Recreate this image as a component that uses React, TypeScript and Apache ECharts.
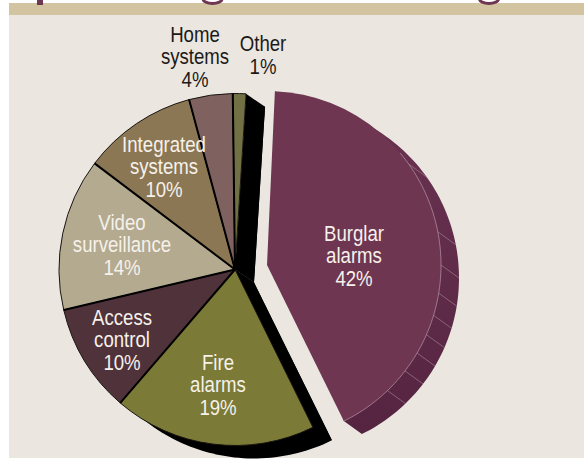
import React, { useEffect, useRef } from "react";
import * as echarts from "echarts";

const names = ["Burglar\nalarms", "Fire\nalarms", "Access\ncontrol", "Video\nsurveillance", "Integrated\nsystems", "Home\nsystems", "Other"];
// Percentages as printed on the chart.
const printedShares = [42, 19, 10, 14, 10, 4, 1];
// Wedge sizes as measured on the picture (the drawn wedges differ slightly from the printed figures).
const wedgeShares = [41.7, 18.6, 10, 14, 10.5, 4, 1.2];
const colors = ["#6e3651", "#7b7a37", "#50323b", "#b3aa90", "#8b7753", "#7f625f", "#717145"];
const labelColors = ["#f6f1ea", "#f6f1ea", "#f6f1ea", "#f6f1ea", "#f6f1ea", "#1c1a18", "#1c1a18"];
const labelCentres = [[354, 255], [218, 384], [122, 339], [122, 244], [164, 166], [195, 56], [263, 54]];
// Clockwise degrees from 12 o'clock where the burglar-alarm side panel has its seams.
const seamAngles = [54.6, 79, 90, 99.3, 106.8, 113.6, 120.4, 127.5, 136.2];

const CX = 235, CY = 269.5, R = 176, DX = 19, DY = 13, FIRST_ANGLE = 3.6;
const BX = 267, BY = 265, BR = 174, BDX = 18, BDY = 13, B_START = 2.6;
const LABEL_FONT = "Liberation Sans";

const rad = (a: number) => (a * Math.PI) / 180;
const polar = (cx: number, cy: number, r: number, a: number) => [cx + r * Math.sin(rad(a)), cy - r * Math.cos(rad(a))];

const total = wedgeShares.reduce((s, v) => s + v, 0);
const edges: number[] = [FIRST_ANGLE];
wedgeShares.forEach((s) => edges.push(edges[edges.length - 1] + (s / total) * 360));
const B_END = B_START + (printedShares[0] / 100) * 360;

const arcPts = (cx: number, cy: number, r: number, a0: number, a1: number) => {
  const out: number[][] = [];
  const steps = Math.max(2, Math.ceil(Math.abs(a1 - a0) / 1.5));
  for (let i = 0; i <= steps; i++) out.push(polar(cx, cy, r, a0 + ((a1 - a0) * i) / steps));
  return out;
};

const blackQuad = (a: number) => ({
  type: "polygon",
  shape: { points: [[CX, CY], polar(CX, CY, R, a), polar(CX + DX, CY + DY, R, a), [CX + DX, CY + DY]] },
  style: { fill: "#000" },
});
const blackWedge = (a0: number, a1: number) => ({
  type: "polygon",
  shape: { points: [[CX + DX, CY + DY], ...arcPts(CX + DX, CY + DY, R, a0, a1)] },
  style: { fill: "#000" },
});

function renderUnder() {
  const panel = [
    polar(BX, BY, BR, B_END),
    ...arcPts(BX + BDX, BY + BDY, BR, B_END, B_START),
    polar(BX, BY, BR, B_START),
  ];
  return {
    type: "group",
    children: [
      blackQuad(edges[1]),
      blackQuad(edges[2]),
      blackWedge(edges[1], edges[2]),
      blackQuad(edges[7]),
      blackWedge(edges[6], edges[7]),
      {
        type: "polygon",
        shape: { points: panel },
        style: {
          fill: new echarts.graphic.LinearGradient(0, 0, 0, 1, [
            { offset: 0, color: "#6b3451" },
            { offset: 1, color: "#552441" },
          ]),
        },
      },
      ...seamAngles.map((a) => {
        const p = polar(BX, BY, BR, a);
        const q = polar(BX + BDX, BY + BDY, BR, a);
        return {
          type: "line",
          shape: { x1: p[0], y1: p[1], x2: q[0], y2: q[1] },
          style: { stroke: "#a98a9a", lineWidth: 0.6 },
        };
      }),
    ],
  };
}

function renderOver() {
  return {
    type: "group",
    children: [
      ...edges.slice(2, 7).map((a) => {
        const p = polar(CX, CY, R, a);
        return {
          type: "line",
          shape: { x1: CX, y1: CY, x2: p[0], y2: p[1] },
          style: { stroke: "#000", lineWidth: 2 },
        };
      }),
      {
        type: "polyline",
        shape: { points: arcPts(BX, BY, BR, 50, B_END) },
        style: { stroke: "#b798a7", lineWidth: 0.7, fill: "none" },
      },
      ...names.map((name, i) => ({
        type: "text",
        x: labelCentres[i][0],
        y: labelCentres[i][1],
        scaleX: 0.81,
        style: {
          text: `${name}\n${printedShares[i]}%`,
          fontFamily: LABEL_FONT,
          fontSize: 23,
          lineHeight: 22.7,
          align: "center",
          verticalAlign: "middle",
          fill: labelColors[i],
        },
      })),
    ],
  };
}

export default function App() {
  const ref = useRef<HTMLDivElement>(null);
  useEffect(() => {
    const chart = echarts.init(ref.current!, null, { renderer: "svg" });
    const inkStyle = { stroke: "#6e3651", lineWidth: 3, fill: "none" };
    chart.setOption({
      animation: false,
      backgroundColor: "#ffffff",
      graphic: {
        elements: [
          { type: "rect", z: -10, silent: true, shape: { x: 9, y: 15, width: 575, height: 443 }, style: { fill: "#ebe7e0" } },
          { type: "rect", z: -10, silent: true, shape: { x: 9, y: 3, width: 575, height: 12 }, style: { fill: "#d2c4a0" } },
          { type: "rect", z: -9, silent: true, shape: { x: 37, y: 0, width: 6, height: 5 }, style: { fill: "#6e3651" } },
          { type: "ellipse", z: -9, silent: true, shape: { cx: 212.5, cy: -1, rx: 9.5, ry: 4.5 }, style: inkStyle },
          { type: "ellipse", z: -9, silent: true, shape: { cx: 489, cy: -1, rx: 9.5, ry: 4.5 }, style: inkStyle },
        ],
      },
      series: [
        { type: "custom", coordinateSystem: "none", z: 1, silent: true, data: [[0]], renderItem: renderUnder },
        {
          type: "pie",
          z: 2,
          silent: true,
          center: [CX, CY],
          radius: [0, R],
          startAngle: 90 - FIRST_ANGLE,
          clockwise: true,
          sort: null,
          label: { show: false },
          labelLine: { show: false },
          data: names.map((name, i) => ({
            name,
            value: wedgeShares[i],
            itemStyle:
              i === 0
                ? { color: "rgba(0,0,0,0)", borderWidth: 0 }
                : { color: colors[i], borderColor: "#1a1512", borderWidth: 1 },
          })),
        },
        {
          type: "pie",
          z: 2,
          silent: true,
          center: [BX, BY],
          radius: [0, BR],
          startAngle: 90 - B_START,
          clockwise: true,
          sort: null,
          label: { show: false },
          labelLine: { show: false },
          data: [
            { name: names[0], value: printedShares[0], itemStyle: { color: colors[0], borderWidth: 0 } },
            { name: "rest", value: 100 - printedShares[0], itemStyle: { color: "rgba(0,0,0,0)", borderWidth: 0 } },
          ],
        },
        { type: "custom", coordinateSystem: "none", z: 3, silent: true, data: [[0]], renderItem: renderOver },
      ],
    });
    return () => chart.dispose();
  }, []);
  return <div ref={ref} style={{ position: "fixed", left: 0, top: 0, width: 584, height: 459 }} />;
}
